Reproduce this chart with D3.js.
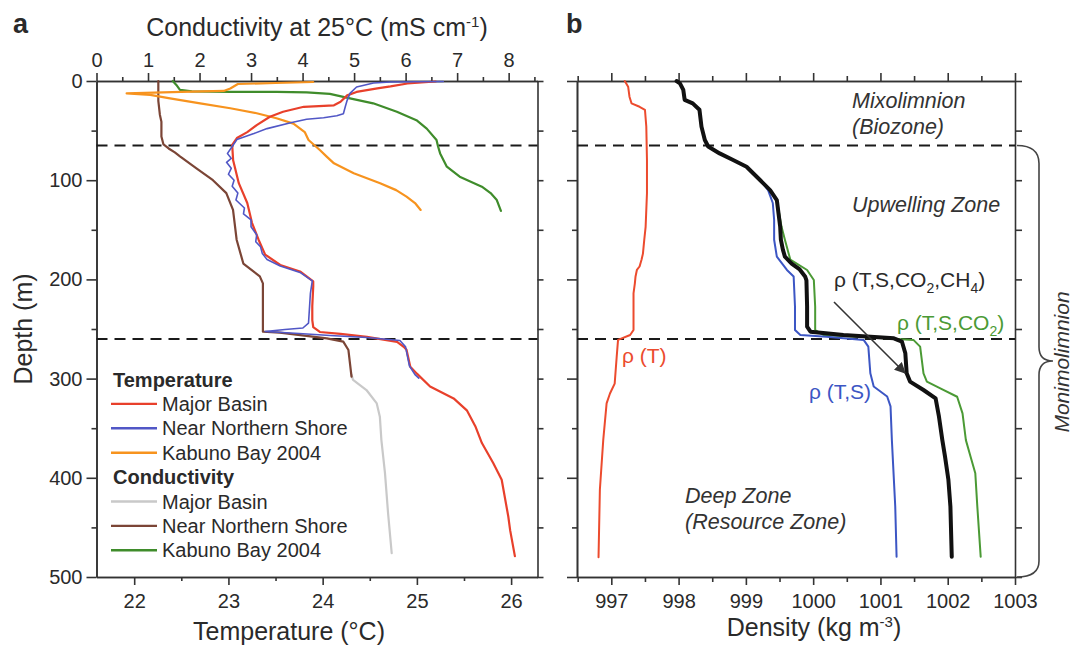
<!DOCTYPE html>
<html>
<head>
<meta charset="utf-8">
<script src="https://cdn.jsdelivr.net/npm/d3@7"></script>
<style>
  body { margin: 0; background: #fff; }
  svg text { font-family: "Liberation Sans", Arial, Helvetica, sans-serif; fill: #2a2a2a; }
</style>
</head>
<body>
<svg id="chart" width="1072" height="647"></svg>
<script>
// ---------- Panel a: temperature profiles, [depth m, °C] ----------
const tempMajorBasin = [[0.5,25.2],[2.5,24.9],[5.5,24.72],[7.5,24.58],[11,24.36],[14.5,24.26],[21,24.19],[24.5,24.12],[26,23.8],[31,23.58],[36,23.44],[44.5,23.3],[51.5,23.2],[57.5,23.09],[64.5,23.04],[80,23.05],[103,23.11],[123,23.2],[143,23.25],[160,23.32],[175,23.39],[185.5,23.55],[192,23.76],[202,23.9],[207,23.9],[227,23.89],[241,23.89],[248,23.9],[253,23.97],[255,24.19],[258,24.47],[263,24.79],[268,24.86],[271,24.89],[288,24.93],[295,25.0],[308,25.14],[320,25.39],[332,25.53],[348,25.62],[365,25.69],[385,25.81],[402,25.9],[439,25.97],[453,25.99],[479,26.04]];
const tempNorthShore = [[0.5,25.28],[1,24.72],[2,24.54],[6,24.36],[12.5,24.29],[19.5,24.26],[26,24.24],[33,24.22],[35,24.15],[37,24.01],[38.5,23.83],[42,23.66],[48,23.41],[53,23.27],[59,23.09],[66,23.04],[73,22.99],[78,23.03],[82,22.98],[88,23.03],[94,23.0],[100,23.06],[106,23.04],[113,23.1],[120,23.08],[128,23.17],[134,23.16],[140,23.24],[147,23.24],[155,23.3],[162,23.29],[167,23.34],[174,23.36],[180,23.41],[186.5,23.55],[193,23.76],[201.5,23.89],[214,23.87],[244,23.85],[249,23.79],[250.5,23.6],[252.5,23.39],[254.5,23.75],[256.6,24.08],[258.6,24.47],[261.6,24.82],[268,24.88],[287,24.92],[296,24.98],[299.5,25.02]];
const tempKabuno2004 = [[1,23.9],[2,23.5],[3,23.1],[7.5,23.02],[10,22.95],[11,22.5],[12.5,21.92],[14,22.17],[17.5,22.38],[22.5,22.7],[27.5,23.02],[32.5,23.3],[37.5,23.51],[43,23.69],[51.5,23.81],[59.5,23.85],[69.6,23.97],[76,24.04],[83,24.12],[93,24.33],[103,24.61],[110,24.78],[116.6,24.89],[123,24.98],[130,25.04]];

// ---------- Panel a: conductivity profiles, [depth m, mS/cm] ----------
const condMajorBasin = [[296,4.95],[301.4,4.98],[311.5,5.24],[325,5.44],[338.4,5.5],[362,5.53],[395.5,5.6],[436,5.66],[476,5.73]];
const condNorthShore = [[0,1.2],[20,1.2],[34,1.23],[41,1.26],[56,1.26],[64,1.3],[68,1.4],[72,1.52],[76,1.62],[88,1.94],[100,2.26],[113,2.52],[130,2.65],[160,2.72],[184,2.85],[197,3.17],[204,3.23],[252.7,3.23],[253.7,3.56],[259.4,4.47],[262.8,4.79],[271.2,4.89],[298,4.95]];
const condKabuno2004 = [[0,1.48],[4,1.55],[9,1.62],[10.5,1.85],[11,2.6],[11,3.5],[11.5,4.08],[13,4.53],[17.5,4.92],[22.5,5.37],[31,5.83],[39.5,6.21],[48,6.41],[59.5,6.6],[66,6.63],[73,6.67],[86.4,6.8],[96.5,7.05],[106.5,7.48],[113,7.65],[120,7.77],[131,7.85]];

// ---------- Panel b: density profiles, [depth m, kg/m3] ----------
const rhoT = [[0,997.2],[5.7,997.25],[15.8,997.27],[22.5,997.3],[26,997.42],[29,997.5],[46,997.52],[80,997.53],[113,997.53],[147,997.51],[160,997.49],[174,997.47],[180,997.45],[187,997.42],[190.5,997.38],[197,997.36],[204,997.35],[214,997.33],[251,997.33],[256,997.28],[261,997.1],[278,997.08],[305,997.05],[315,996.98],[325,996.93],[362,996.88],[412,996.83],[480,996.81]];
const rhoTS = [[99.8,999.21],[110,999.33],[123,999.4],[140,999.42],[160,999.42],[177,999.46],[190.5,999.61],[197,999.71],[227.5,999.73],[251,999.73],[256,999.81],[257.8,1000.2],[261,1000.75],[267.8,1000.82],[294.7,1000.85],[308,1000.9],[318,1001.1],[328,1001.15],[362,1001.17],[429,1001.22],[479.5,1001.24]];
const rhoTSCO2 = [[120,999.46],[147,999.53],[160,999.58],[180,999.66],[190.5,999.91],[200.6,1000.01],[227.5,1000.03],[251,1000.03],[256,1000.15],[258.8,1000.95],[261,1001.49],[267.8,1001.59],[294.7,1001.64],[303,1001.69],[309.8,1001.89],[318.3,1002.14],[335,1002.22],[362,1002.27],[378.7,1002.34],[395.5,1002.41],[429,1002.44],[479.5,1002.49]];
const rhoTSCO2CH4 = [[0,997.97],[2.3,998.02],[9,998.07],[19,998.09],[22.5,998.21],[29,998.31],[46,998.34],[59.5,998.39],[66,998.44],[73,998.61],[79.6,998.81],[86.4,999.01],[99.8,999.21],[110,999.36],[120,999.46],[147,999.51],[160,999.52],[170,999.55],[177,999.58],[184,999.68],[190,999.8],[197,999.88],[201,999.9],[227.5,999.91],[247.7,999.91],[252.7,999.96],[256,1000.45],[259.4,1001.2],[262.8,1001.32],[274.5,1001.37],[294.7,1001.39],[303,1001.44],[311.5,1001.64],[320,1001.82],[338.4,1001.87],[362,1001.92],[378.7,1001.96],[402,1002.01],[429,1002.04],[479.5,1002.06]];

// ---------- Ticks and zone boundaries ----------
const depthTicks = [0,100,200,300,400,500];
const depthMinor = [50,150,250,350,450];
const depthEvery50 = [0,50,100,150,200,250,300,350,400,450,500];
const condTicks = [0,1,2,3,4,5,6,7,8];
const condMinor = [0.5,1.5,2.5,3.5,4.5,5.5,6.5,7.5,8.5];
const tempTicks = [22,23,24,25,26];
const tempMinor = [22.5,23.5,24.5,25.5];
const densTicks = [997,998,999,1000,1001,1002,1003];
const densMinor = [996.5,997.5,998.5,999.5,1000.5,1001.5,1002.5];
const zoneBoundaries = [65,260];

// ---------- Legend ----------
const legendGroups = [
  { title: "Temperature", items: [["Major Basin","#e8402b"],["Near Northern Shore","#5157c6"],["Kabuno Bay 2004","#f7931e"]] },
  { title: "Conductivity", items: [["Major Basin","#c9c9c9"],["Near Northern Shore","#7b4536"],["Kabuno Bay 2004","#3f8c2b"]] }
];

const svg = d3.select("#chart");
svg.append("rect").attr("width",1072).attr("height",647).attr("fill","#fff");

const FONT = '"Liberation Sans", Arial, Helvetica, sans-serif';
const AX = "#333";

// Scales
const aLeft = 96.5, aRight = 537.5, bLeft = 577, bRight = 1015, plotTop = 81, plotBottom = 577;
const y = d3.scaleLinear().domain([0,500]).range([plotTop,plotBottom]);
const xT = d3.scaleLinear().domain([21.6,26.28]).range([aLeft,aRight]);
const xC = d3.scaleLinear().domain([0,8.56]).range([aLeft,aRight]);
const xD = d3.scaleLinear().domain([996.49,1003]).range([bLeft,bRight]);

function axis(gen, tr, values, size, pad, labelled) {
  const g = svg.append("g").attr("transform", tr)
    .call(gen.tickValues(values).tickSize(size).tickSizeOuter(0).tickPadding(pad)
      .tickFormat(labelled ? d3.format("d") : ""));
  g.attr("font-family", FONT).attr("font-size", 20);
  g.select("path.domain").attr("stroke", AX).attr("stroke-width", 1.6);
  g.selectAll(".tick line").attr("stroke", AX).attr("stroke-width", 1.6);
  g.selectAll(".tick text").attr("fill", "#2a2a2a");
  return g;
}

// Panel a axes
axis(d3.axisLeft(y), `translate(${aLeft},0)`, depthTicks, 10, 4, true);
axis(d3.axisLeft(y), `translate(${aLeft},0)`, depthMinor, 5, 4, false);
axis(d3.axisRight(y), `translate(${aRight},0)`, depthEvery50, 6, 4, false);
axis(d3.axisTop(xC), `translate(0,${plotTop})`, condTicks, 8, 6, true);
axis(d3.axisTop(xC), `translate(0,${plotTop})`, condMinor, 4, 6, false);
axis(d3.axisBottom(xT), `translate(0,${plotBottom})`, tempTicks, 8, 9, true);
axis(d3.axisBottom(xT), `translate(0,${plotBottom})`, tempMinor, 4, 9, false);

// Panel b axes
axis(d3.axisLeft(y), `translate(${bLeft},0)`, depthTicks, 10, 4, false);
axis(d3.axisLeft(y), `translate(${bLeft},0)`, depthMinor, 5, 4, false);
axis(d3.axisRight(y), `translate(${bRight},0)`, depthEvery50, 7, 4, false);
axis(d3.axisTop(xD), `translate(0,${plotTop})`, densTicks, 8, 6, false);
axis(d3.axisTop(xD), `translate(0,${plotTop})`, densMinor, 5, 6, false);
axis(d3.axisBottom(xD), `translate(0,${plotBottom})`, densTicks, 8, 9, true);
axis(d3.axisBottom(xD), `translate(0,${plotBottom})`, densMinor, 5, 9, false);

// Zone boundary dashes
zoneBoundaries.forEach(d => {
  [[aLeft,aRight],[bLeft,bRight]].forEach(([l,r]) => {
    svg.append("line").attr("x1", l).attr("x2", r).attr("y1", y(d)).attr("y2", y(d))
      .attr("stroke", "#1a1a1a").attr("stroke-width", 2).attr("stroke-dasharray", "11,7");
  });
});

// Profile lines
function profile(data, xs, color, width) {
  const line = d3.line().x(d => xs(d[1])).y(d => y(d[0]));
  svg.append("path").datum(data).attr("d", line).attr("fill", "none")
    .attr("stroke", color).attr("stroke-width", width)
    .attr("stroke-linejoin", "round").attr("stroke-linecap", "round");
}
profile(condMajorBasin, xC, "#c9c9c9", 2.2);
profile(condNorthShore, xC, "#7b4536", 2.2);
profile(condKabuno2004, xC, "#3f8c2b", 2.2);
profile(tempKabuno2004, xT, "#f7931e", 2.2);
profile(tempMajorBasin, xT, "#e8402b", 2.2);
profile(tempNorthShore, xT, "#5157c6", 1.6);

profile(rhoTSCO2, xD, "#4b9a35", 2);
profile(rhoTS, xD, "#3c56c4", 2);
profile(rhoT, xD, "#ec4b2e", 2);
profile(rhoTSCO2CH4, xD, "#111", 4);

// Legend
let ly = 379.5;
legendGroups.forEach(grp => {
  svg.append("text").attr("x", 113).attr("y", ly + 7).attr("font-size", 20)
    .attr("font-weight", "bold").text(grp.title);
  ly += 24.4;
  grp.items.forEach(([name, color]) => {
    svg.append("line").attr("x1", 111).attr("x2", 157).attr("y1", ly).attr("y2", ly)
      .attr("stroke", color).attr("stroke-width", 2.4);
    svg.append("text").attr("x", 162).attr("y", ly + 7).attr("font-size", 20).text(name);
    ly += 24.4;
  });
});

// Text with sub/superscripts
function rich(x, yy, parts, opts = {}) {
  const t = svg.append("text").attr("x", x).attr("y", yy)
    .attr("font-size", opts.size || 21)
    .attr("text-anchor", opts.anchor || "start");
  if (opts.color) t.style("fill", opts.color);
  if (opts.italic) t.attr("font-style", "italic");
  if (opts.transform) t.attr("transform", opts.transform);
  let shift = 0;
  parts.forEach(([s, kind]) => {
    const ts = t.append("tspan").text(s);
    let target = 0;
    if (kind === "sub") { target = 6; ts.attr("font-size", 14); }
    if (kind === "sup") { target = -9; ts.attr("font-size", 15); }
    if (target !== shift) { ts.attr("dy", target - shift); shift = target; }
  });
  return t;
}

// Panel letters and axis titles
svg.append("text").attr("x", 13).attr("y", 33).attr("font-size", 27).attr("font-weight", "bold").text("a");
svg.append("text").attr("x", 566).attr("y", 33).attr("font-size", 27).attr("font-weight", "bold").text("b");
rich(317, 36, [["Conductivity at 25°C (mS cm"],["-1","sup"],[")"]], { size: 25, anchor: "middle" });
rich(289, 640, [["Temperature (°C)"]], { size: 25, anchor: "middle" });
rich(814, 636, [["Density (kg m"],["-3","sup"],[")"]], { size: 25, anchor: "middle" });
rich(0, 0, [["Depth (m)"]], { size: 25, anchor: "middle", transform: "translate(32,329) rotate(-90)" });

// Zone annotations
const zoneStyle = { size: 21.5, italic: true, color: "#333" };
rich(852, 108, [["Mixolimnion"]], zoneStyle);
rich(852, 134, [["(Biozone)"]], zoneStyle);
rich(852, 212, [["Upwelling Zone"]], zoneStyle);
rich(685, 503, [["Deep Zone"]], zoneStyle);
rich(685, 529, [["(Resource Zone)"]], zoneStyle);
rich(0, 0, [["Monimolimnion"]], { size: 21, italic: true, color: "#333", anchor: "middle", transform: "translate(1069,362) rotate(-90)" });

// Curve labels
rich(834, 287, [["ρ (T,S,CO"],["2","sub"],[",CH"],["4","sub"],[")"]], { color: "#2a2a2a" });
rich(897, 330, [["ρ (T,S,CO"],["2","sub"],[")"]], { color: "#4b9a35" });
rich(622, 363, [["ρ (T)"]], { color: "#ec4b2e" });
rich(809, 399, [["ρ (T,S)"]], { color: "#3c56c4" });

// Arrow pointing at the CH4 curve
svg.append("defs").append("marker").attr("id", "head").attr("viewBox", "0 0 10 10")
  .attr("refX", 9).attr("refY", 5).attr("markerWidth", 7).attr("markerHeight", 7)
  .attr("orient", "auto").append("path").attr("d", "M0,0 L10,5 L0,10 Z").attr("fill", "#333");
svg.append("line").attr("x1", 834).attr("y1", 302).attr("x2", 905).attr("y2", 373)
  .attr("stroke", "#333").attr("stroke-width", 1.6).attr("marker-end", "url(#head)");

// Brace spanning the monimolimnion
const yb0 = y(zoneBoundaries[0]), yb1 = plotBottom, ym = 361;
svg.append("path")
  .attr("d", `M1017,${yb0} Q1039,${yb0} 1039,${yb0 + 18} L1039,${ym - 14} Q1039,${ym} 1053,${ym} Q1039,${ym} 1039,${ym + 14} L1039,${yb1 - 16} Q1039,${yb1} 1017,${yb1}`)
  .attr("fill", "none").attr("stroke", "#444").attr("stroke-width", 1.6);
</script>
</body>
</html>
